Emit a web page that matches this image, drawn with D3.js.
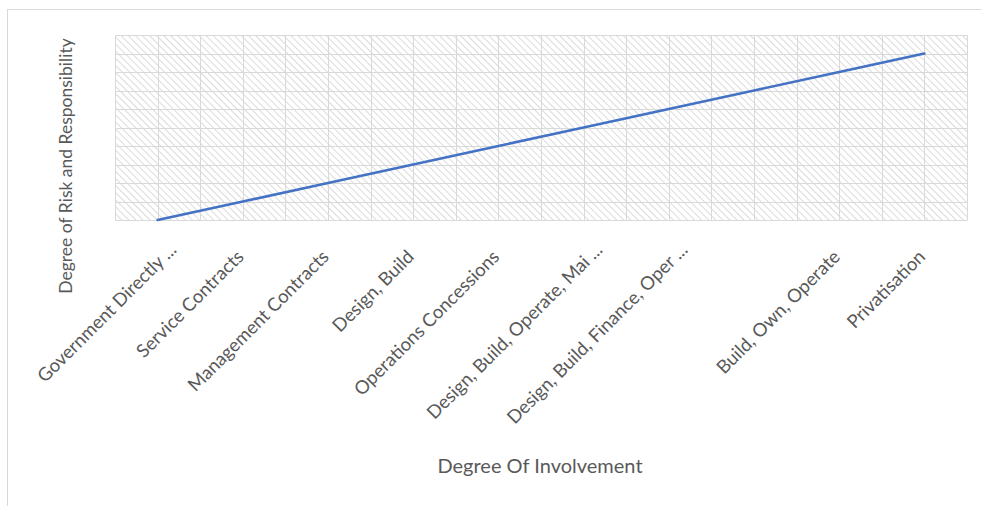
<!DOCTYPE html>
<html>
<head>
<meta charset="utf-8">
<script src="https://cdn.jsdelivr.net/npm/d3@7"></script>
<style>
  html, body { margin: 0; padding: 0; background: #fff; }
  svg { display: block; }
  text { font-family: Lato, "Open Sans", sans-serif; fill: #595959; }
</style>
</head>
<body>
<svg id="chart" width="981" height="506"></svg>
<script>
// Procurement models, ordered by the private sector's degree of involvement
const categories = [
  "Government Directly ...",
  "Service Contracts",
  "Management Contracts",
  "Design, Build",
  "Operations Concessions",
  "Design, Build, Operate, Mai ...",
  "Design, Build, Finance, Oper ...",
  "",
  "Build, Own, Operate",
  "Privatisation"
];
// Relative degree of risk and responsibility carried by the private party
const riskValues = [0, 1, 2, 3, 4, 5, 6, 7, 8, 9];
const yDomain = [0, 10];
const yTickCount = 10;

const svg = d3.select("#chart");
const plot = { left: 115, right: 967, top: 35, bottom: 220 };

// Outer chart frame
svg.append("rect")
  .attr("x", 7.5).attr("y", 9.5)
  .attr("width", 1100).attr("height", 700)
  .attr("fill", "none").attr("stroke", "#d9d9d9").attr("stroke-width", 1);

// Diagonal hatch fill for the plot area (strokes run top-left to bottom-right)
const defs = svg.append("defs");
const pat = defs.append("pattern")
  .attr("id", "hatch")
  .attr("patternUnits", "userSpaceOnUse")
  .attr("width", 5).attr("height", 5)
  .attr("patternTransform", "rotate(-45)");
pat.append("rect").attr("width", 5).attr("height", 5).attr("fill", "#fff");
pat.append("line")
  .attr("x1", 0).attr("y1", 0).attr("x2", 0).attr("y2", 5)
  .attr("stroke", "#d2d2d2").attr("stroke-width", 1.6);

const x = d3.scaleBand()
  .domain(d3.range(categories.length))
  .range([plot.left, plot.right])
  .paddingInner(0).paddingOuter(0);
const y = d3.scaleLinear().domain(yDomain).range([plot.bottom, plot.top]);

svg.append("rect")
  .attr("x", plot.left).attr("y", plot.top)
  .attr("width", plot.right - plot.left).attr("height", plot.bottom - plot.top)
  .attr("fill", "url(#hatch)");

// Gridlines: horizontal at each value step, vertical at category edges and centres
const grid = svg.append("g").attr("stroke", "#d9d9d9").attr("stroke-width", 1);
grid.selectAll("line.h")
  .data(y.ticks(yTickCount))
  .join("line")
  .attr("class", "h")
  .attr("x1", plot.left).attr("x2", plot.right)
  .attr("y1", d => Math.round(y(d)) + 0.5).attr("y2", d => Math.round(y(d)) + 0.5);

const vPos = [];
categories.forEach((c, i) => {
  vPos.push(x(i));
  vPos.push(x(i) + x.bandwidth() / 2);
});
vPos.push(plot.right);
grid.selectAll("line.v")
  .data(vPos)
  .join("line")
  .attr("class", "v")
  .attr("y1", plot.top).attr("y2", plot.bottom)
  .attr("x1", d => Math.round(d) + 0.5).attr("x2", d => Math.round(d) + 0.5);

// Category axis labels, rotated; shortened labels sit a little further out
const xAxis = d3.axisBottom(x)
  .tickSize(0)
  .tickFormat(i => categories[i]);
const gx = svg.append("g")
  .attr("transform", `translate(0,${plot.bottom})`)
  .call(xAxis);
gx.select(".domain").attr("stroke", "#d9d9d9");
gx.selectAll(".tick text")
  .attr("font-size", 18.5)
  .attr("fill", "#595959")
  .attr("font-family", "Lato, 'Open Sans', sans-serif")
  .attr("text-anchor", "end")
  .attr("dy", null)
  .attr("y", 0)
  .attr("transform", i => categories[i].endsWith("...")
    ? "translate(20,31) rotate(-45)"
    : "translate(2,38) rotate(-45)");

// Series line
const line = d3.line()
  .x((d, i) => x(i) + x.bandwidth() / 2)
  .y(d => y(d));
svg.append("path")
  .datum(riskValues)
  .attr("d", line)
  .attr("fill", "none")
  .attr("stroke", "#4472c4")
  .attr("stroke-width", 2.6)
  .attr("stroke-linecap", "round");

// Axis titles
svg.append("text")
  .attr("x", 540).attr("y", 473)
  .attr("text-anchor", "middle")
  .attr("font-size", 20)
  .text("Degree Of Involvement");
svg.append("text")
  .attr("transform", "translate(72,166) rotate(-90)")
  .attr("text-anchor", "middle")
  .attr("font-size", 17.5)
  .text("Degree of Risk and Responsibility");
</script>
</body>
</html>
